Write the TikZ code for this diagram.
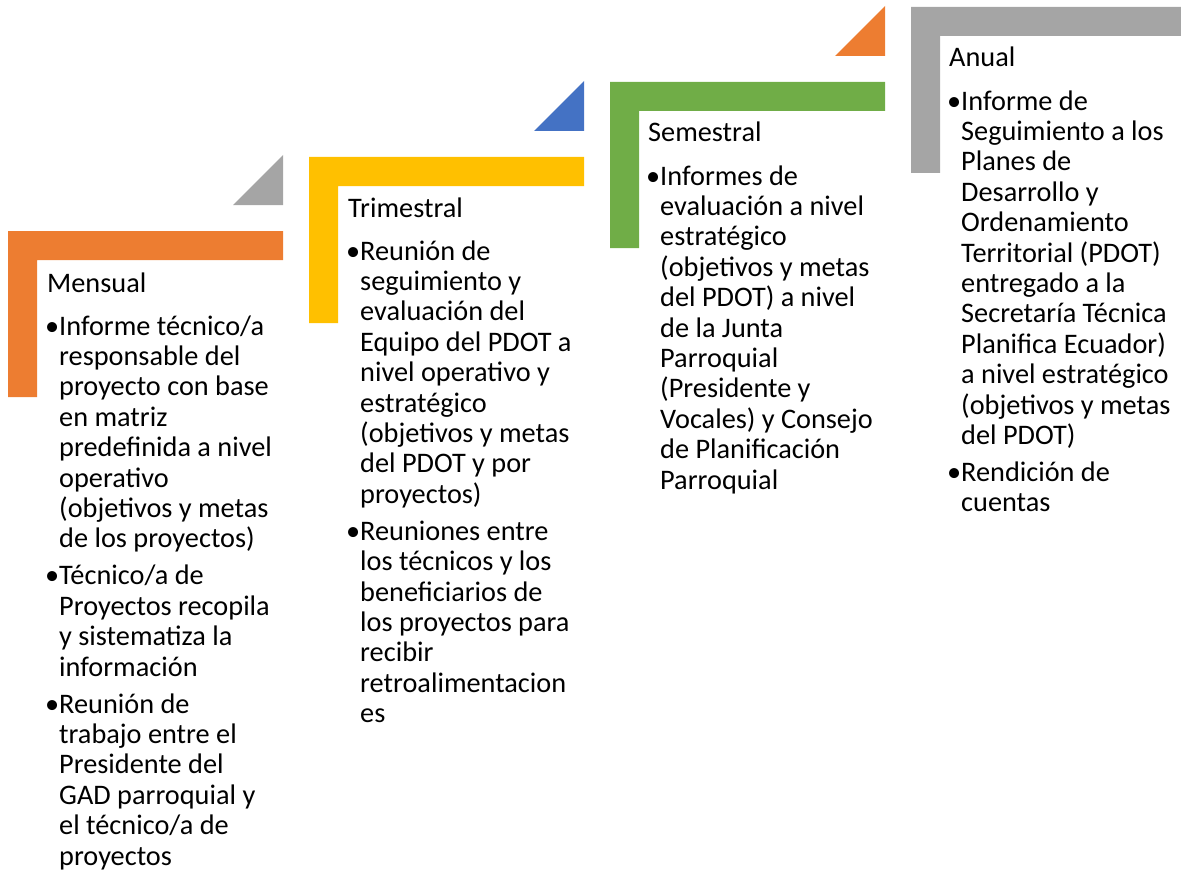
\documentclass[tikz,border=0pt]{standalone}
\usepackage{fontspec}
\setmainfont{Carlito}
\usepackage{tikz}
\usetikzlibrary{positioning}
\definecolor{stepOrange}{RGB}{237,125,49}
\definecolor{stepGold}{RGB}{255,192,0}
\definecolor{stepGreen}{RGB}{112,173,71}
\definecolor{stepGray}{RGB}{165,165,165}
\definecolor{stepBlue}{RGB}{68,114,196}
\newcommand{\itm}{\llap{•}}

\begin{document}
\begin{tikzpicture}[x=1pt, y=-1pt,
  steptitle/.style={anchor=base west, inner sep=0pt, font=\fontsize{28.3}{30.4}\selectfont},
  steplist/.style={anchor=north west, inner sep=0pt, align=left, font=\fontsize{28.3}{30.4}\selectfont}]
  \useasboundingbox (0,0) rectangle (1181,872);
  % step bars (L shapes)
  \fill[stepOrange] (8,231) -- (283,231) -- (283,260) -- (37,260) -- (37,397) -- (8,397) -- cycle;
  \fill[stepGold]   (309,157) -- (584,157) -- (584,186) -- (338,186) -- (338,323) -- (309,323) -- cycle;
  \fill[stepGreen]  (610,82) -- (885,82) -- (885,111) -- (639,111) -- (639,248) -- (610,248) -- cycle;
  \fill[stepGray]   (911,7) -- (1190,7) -- (1190,36) -- (940,36) -- (940,173) -- (911,173) -- cycle;
  % corner triangles
  \fill[stepGray]   (233,205) -- (283,205) -- (283,155) -- cycle;
  \fill[stepBlue]   (534,131) -- (584,131) -- (584,81) -- cycle;
  \fill[stepOrange] (835,56) -- (885,56) -- (885,6) -- cycle;
  % texts (list tops = first baseline - strut height)
  \node[steptitle] (mens) at (47,292) {Mensual};
  \node[steplist] (mensl) at (59,313.7) {\strut\itm Informe técnico/a\\ responsable del\\ proyecto con base\\ en matriz\\ predefinida a nivel\\ operativo\\ (objetivos y metas\\ de los proyectos)\\[6.6pt]
    \itm Técnico/a de\\ Proyectos recopila\\ y sistematiza la\\ información\\[6.6pt]
    \itm Reunión de\\ trabajo entre el\\ Presidente del\\ GAD parroquial y\\ el técnico/a de\\ proyectos};
  \node[steptitle] (trim) at (348,217) {Trimestral};
  \node[steplist] (triml) at (360,238.7) {\strut\itm Reunión de\\ seguimiento y\\ evaluación del\\ Equipo del PDOT a\\ nivel operativo y\\ estratégico\\ (objetivos y metas\\ del PDOT y por\\ proyectos)\\[6.6pt]
    \itm Reuniones entre\\ los técnicos y los\\ beneficiarios de\\ los proyectos para\\ recibir\\ retroalimentacion\\ es};
  \node[steptitle] (seme) at (648,142) {Semestral};
  \node[steplist] (semel) at (660,163.7) {\strut\itm Informes de\\ evaluación a nivel\\ estratégico\\ (objetivos y metas\\ del PDOT) a nivel\\ de la Junta\\ Parroquial\\ (Presidente y\\ Vocales) y Consejo\\ de Planificación\\ Parroquial};
  \node[steptitle] (anua) at (949,67) {Anual};
  \node[steplist] (anual) at (961,88.7) {\strut\itm Informe de\\ Seguimiento a los\\ Planes de\\ Desarrollo y\\ Ordenamiento\\ Territorial (PDOT)\\ entregado a la\\ Secretaría Técnica\\ Planifica Ecuador)\\ a nivel estratégico\\ (objetivos y metas\\ del PDOT)\\[6.6pt]
    \itm Rendición de\\ cuentas};
\end{tikzpicture}
\end{document}
